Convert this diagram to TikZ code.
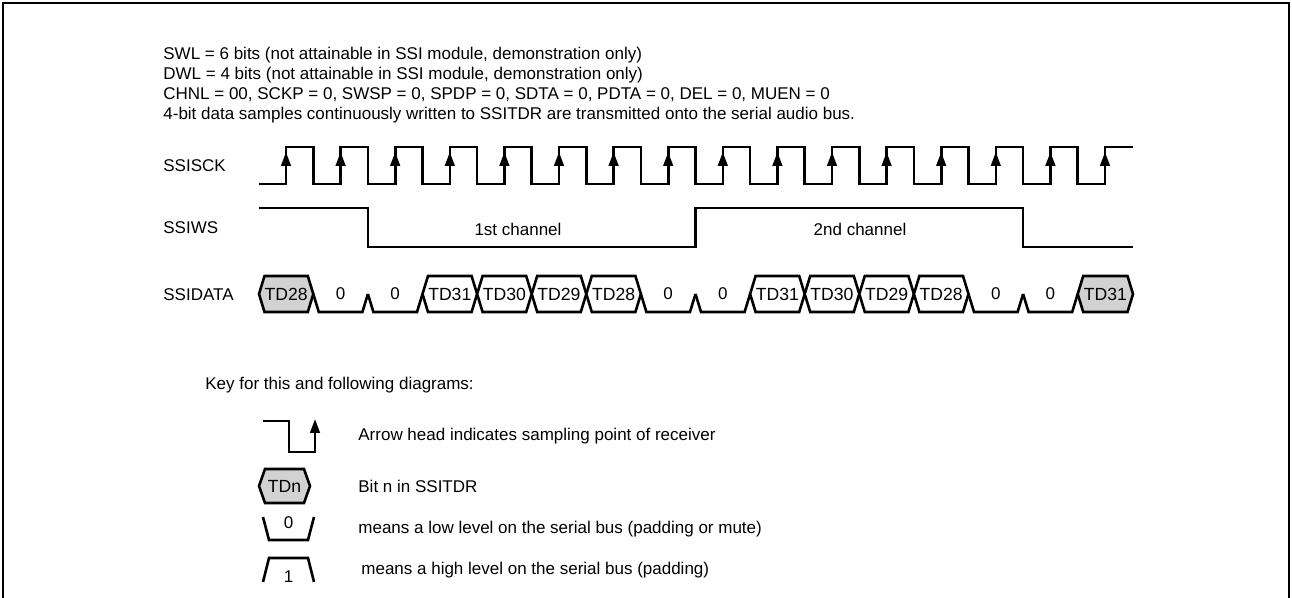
\documentclass[tikz,border=0pt]{standalone}
\usepackage{fontspec}
\setmainfont{Liberation Sans}
\usetikzlibrary{arrows.meta,positioning}
\definecolor{bitgray}{RGB}{210,210,210}
\tikzset{
  >={Triangle[width=4.8pt,length=7pt]},
  every node/.style={font=\fontsize{8.5}{10}\selectfont, inner sep=0pt},
  txt/.style={anchor=west},
  bitlbl/.style={font=\fontsize{8.8}{10}\selectfont},
  wave/.style={line width=1.3pt},
  sample/.style={wave, ->},
}

\begin{document}
\begin{tikzpicture}[x=0.5pt, y=-0.5pt]
    \useasboundingbox (0,0) rectangle (1292,598);
    \draw[line width=1.3pt] (3,598) -- (3,3) -- (1289,3) -- (1289,598);

    \node (swl)  [txt] at (163,55)  {SWL = 6 bits (not attainable in SSI module, demonstration only)};
    \node (dwl)  [txt] at (163,75)  {DWL = 4 bits (not attainable in SSI module, demonstration only)};
    \node (chnl) [txt] at (163,95)  {CHNL = 00, SCKP = 0, SWSP = 0, SPDP = 0, SDTA = 0, PDTA = 0, DEL = 0, MUEN = 0};
    \node (note) [txt] at (163,115) {4-bit data samples continuously written to SSITDR are transmitted onto the serial audio bus.};

    \node (sck)  [txt] at (163,166) {SSISCK};
    \node (ws)   [txt] at (163,228) {SSIWS};
    \node (data) [txt] at (163,295) {SSIDATA};

    \draw[wave] (259,184) \foreach \i in {0,...,14} {
        -- (286+54.6*\i,184) -- (286+54.6*\i,147) -- (313.3+54.6*\i,147) -- (313.3+54.6*\i,184)}
      -- (1105,184) -- (1105,147) -- (1133,147);
    \foreach \i in {0,...,15}
      \draw[sample] (286+54.6*\i,174) -- (286+54.6*\i,152);

    \draw[wave] (259,208) -- (367.9,208) -- (367.9,247) -- (695.5,247)
      -- (695.5,208) -- (1023.1,208) -- (1023.1,247) -- (1133,247);
    \node (ch1) at (518,229) {1st channel};
    \node (ch2) at (860,229) {2nd channel};

    \foreach \k/\bit/\col in {0/TD28/bitgray, 3/TD31/white, 4/TD30/white, 5/TD29/white, 6/TD28/white,
        9/TD31/white, 10/TD30/white, 11/TD29/white, 12/TD28/white, 15/TD31/bitgray} {
      \pgfmathsetmacro\xa{\k==0 ? 259 : 313.3+54.6*(\k-1)}
      \pgfmathsetmacro\xb{\k==15 ? 1133 : 313.3+54.6*\k}
      \filldraw[wave, fill=\col] (\xa,294) -- (\xa+5.5,276) -- (\xb-5.5,276) -- (\xb,294)
        -- (\xb-5.5,312) -- (\xa+5.5,312) -- cycle;
      \node (d\k) [bitlbl] at ({(\xa+\xb)/2},294) {\bit};
    }
    \foreach \k in {1,2,7,8,13,14} {
      \pgfmathsetmacro\xa{313.3+54.6*(\k-1)}
      \pgfmathsetmacro\xb{313.3+54.6*\k}
      \draw[wave] (\xa,294) -- (\xa+5.5,312) -- (\xb-5.5,312) -- (\xb,294);
      \node (z\k) at ({(\xa+\xb)/2},294) {0};
    }

    \node (key) [txt] at (205,385) {Key for this and following diagrams:};

    \draw[sample] (263,421) -- (289,421) -- (289,452) -- (315,452) -- (315,419);
    \node (k1) [txt] at (358,436) {Arrow head indicates sampling point of receiver};

    \filldraw[wave, fill=bitgray] (259,486) -- (265,469) -- (304,469) -- (310,486)
      -- (304,503) -- (265,503) -- cycle;
    \node (tdn) [bitlbl] at (284.5,486) {TDn};
    \node (k2) [txt] at (358,486) {Bit n in SSITDR};

    \draw[wave] (263,517) -- (269,540) -- (308,540) -- (314,517);
    \node (lo) at (288.5,523) {0};
    \node (k3) [txt] at (358,529) {means a low level on the serial bus (padding or mute)};

    \draw[wave] (263,582) -- (269,558) -- (308,558) -- (314,582);
    \node (hi) at (288.5,577) {1};
    \node (k4) [txt] at (361,570) {means a high level on the serial bus (padding)};
\end{tikzpicture}
\end{document}
